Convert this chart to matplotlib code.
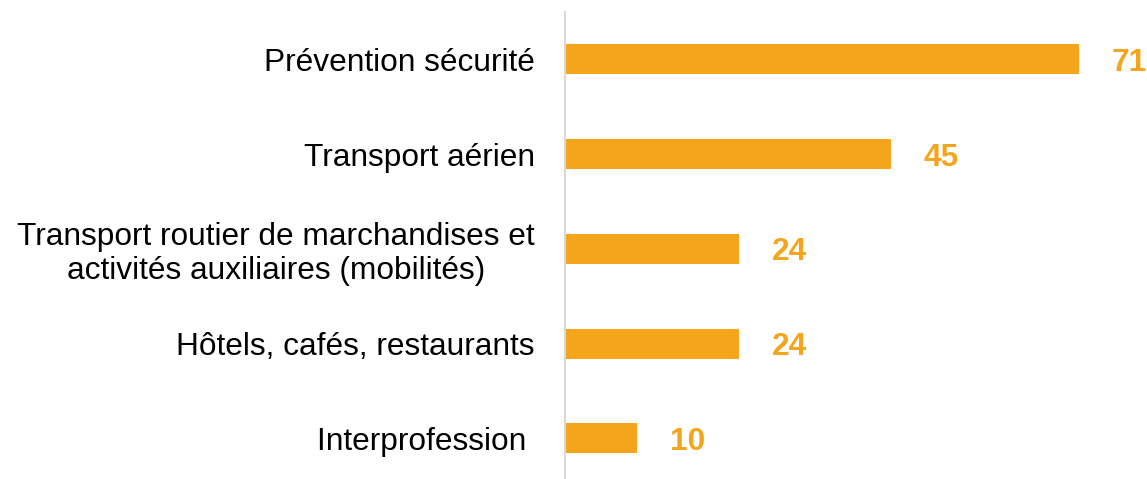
import matplotlib
matplotlib.use("Agg")
import matplotlib.pyplot as plt

categories = [
    "Prévention sécurité",
    "Transport aérien",
    "Transport routier de marchandises et\nactivités auxiliaires (mobilités)",
    "Hôtels, cafés, restaurants",
    "Interprofession ",
]
values = [71, 45, 24, 24, 10]

bar_color = "#F5A51C"
font = "Liberation Sans"

W, H = 1147, 479
fig = plt.figure(figsize=(W / 100, H / 100), dpi=100)
top_px = 12
slot = 94.75
n = len(categories)
ax_h = slot * n
ax = fig.add_axes([565 / W, (H - top_px - ax_h) / H, 582 / W, ax_h / H])

ypos = list(range(n))
ax.barh(ypos, values, height=0.317, color=bar_color, zorder=2)
ax.set_ylim(n - 0.5, -0.5)
ax.set_xlim(0, 80.4)

ax.set_yticks(ypos)
ax.set_yticklabels(categories, fontfamily=font, fontsize=22.8, color="#000000")
for lab in ax.get_yticklabels():
    lab.set_multialignment("center")
    lab.set_linespacing(1.15)
ax.tick_params(axis="y", length=0, pad=21.6)
ax.set_xticks([])

for s in ["top", "right", "bottom"]:
    ax.spines[s].set_visible(False)
ax.spines["left"].set_color("#D9D9D9")
ax.spines["left"].set_linewidth(1.5)
ax.spines["left"].set_zorder(3)

for y, v in zip(ypos, values):
    ax.annotate(str(v), xy=(v, y), xytext=(23.8, 0), textcoords="offset points",
                ha="left", va="center_baseline", fontfamily=font, fontsize=22.8,
                fontweight="bold", color=bar_color)

fig.savefig("out.png", dpi=100)
